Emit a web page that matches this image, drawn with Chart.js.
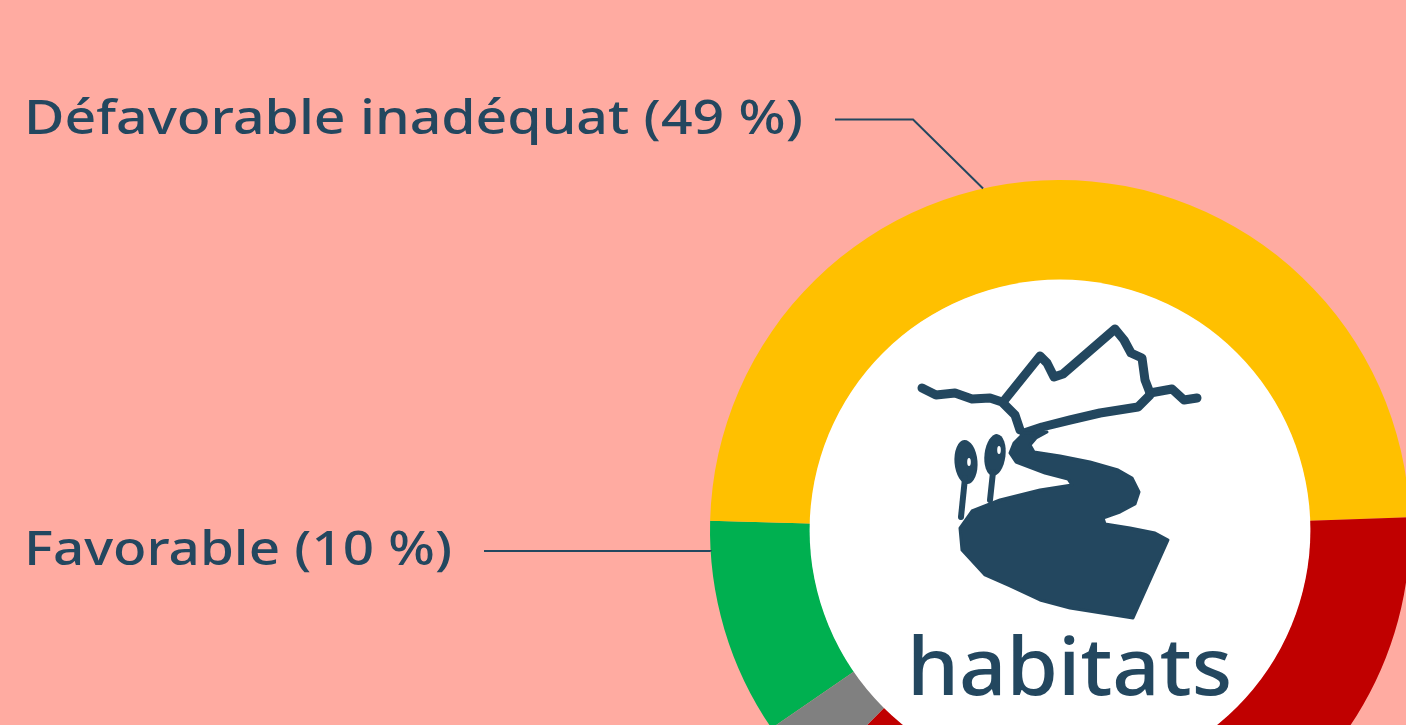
<!DOCTYPE html>
<html>
<head>
<meta charset="utf-8">
<script src="https://cdn.jsdelivr.net/npm/chart.js@4.4.1/dist/chart.umd.min.js"></script>
<style>
    html, body {
        margin: 0;
        padding: 0;
        width: 1406px;
        height: 725px;
        overflow: hidden;
        background: #ffaba1;
    }
    #wrap {
        position: absolute;
        left: 0;
        top: 0;
        width: 1500px;
        height: 1000px;
    }
</style>
</head>
<body>
<div id="wrap"><canvas id="chart"></canvas></div>
<script>
// Conservation status of habitats (share of assessments)
const categories = ['Favorable', 'Défavorable inadéquat', 'Défavorable mauvais', 'Inconnu'];
const shares = [10, 49, 38, 3];
const sliceColors = ['#00b050', '#ffc000', '#c00000', '#808080'];
// only the visible slices get a label; angle (deg, clockwise from top) where the leader touches the ring
const labelled = [
    { index: 0, angle: 266.5, elbow: 0, width: 428, y: 551 },
    { index: 1, angle: 347.3, elbow: 70, width: 779, y: 119.5 }
];

const ink = '#23475f';
const labelFont = '500 47px "Noto Sans"';

// draw text stretched horizontally to a given width (Montserrat-like proportions)
function stretchedText(ctx, text, x, baseline, width, font) {
    ctx.save();
    ctx.font = font;
    const w = ctx.measureText(text).width;
    ctx.translate(x, baseline);
    ctx.scale(width / w, 1);
    ctx.fillText(text, 0, 0);
    ctx.restore();
}

const labelPlugin = {
    id: 'labels',
    afterDatasetsDraw(chart) {
        const ctx = chart.ctx;
        const arc = chart.getDatasetMeta(0).data[0];
        const cx = arc.x, cy = arc.y, r = arc.outerRadius;
        ctx.save();
        ctx.fillStyle = ink;
        ctx.strokeStyle = ink;
        ctx.lineWidth = 2;
        ctx.textBaseline = 'alphabetic';
        labelled.forEach(l => {
            const a = (l.angle - 90) * Math.PI / 180;
            const ex = cx + r * Math.cos(a);
            const ey = cy + r * Math.sin(a);
            const bx = ex - l.elbow;
            const by = l.y;
            const text = categories[l.index] + ' (' + shares[l.index] + ' %)';
            stretchedText(ctx, text, 24, l.y + 14, l.width, labelFont);
            ctx.beginPath();
            ctx.moveTo(24 + l.width + 32, by);
            ctx.lineTo(bx, by);
            ctx.lineTo(ex, ey);
            ctx.stroke();
        });
        ctx.restore();
    }
};

// white centre disc with the "habitats" pictogram
const centrePlugin = {
    id: 'centre',
    afterDatasetsDraw(chart) {
        const ctx = chart.ctx;
        const arc = chart.getDatasetMeta(0).data[0];
        const cx = arc.x, cy = arc.y;
        ctx.save();
        ctx.fillStyle = '#ffffff';
        ctx.beginPath();
        ctx.arc(cx, cy, arc.innerRadius + 0.5, 0, Math.PI * 2);
        ctx.fill();

        ctx.translate(cx, cy);
        ctx.fillStyle = ink;
        ctx.strokeStyle = ink;
        ctx.lineJoin = 'round';
        ctx.lineCap = 'round';

        const poly = (pts) => {
            ctx.beginPath();
            ctx.moveTo(pts[0][0] - 1060, pts[0][1] - 530);
            for (let i = 1; i < pts.length; i++) ctx.lineTo(pts[i][0] - 1060, pts[i][1] - 530);
        };

        // branches / ridge
        ctx.lineWidth = 9;
        poly([[922, 388], [936, 395], [955, 393], [972, 399], [990, 398], [1002, 402], [1015, 415], [1020, 430]]);
        ctx.stroke();
        poly([[1003, 402], [1040, 356], [1047, 363], [1054, 377], [1063, 374], [1115, 329], [1124, 340], [1131, 353], [1142, 358], [1145, 380], [1150, 393]]);
        ctx.stroke();
        poly([[1150, 393], [1172, 389], [1184, 400], [1197, 398]]);
        ctx.stroke();
        poly([[1150, 395], [1138, 407], [1100, 413], [1070, 420], [1042, 427], [1024, 433]]);
        ctx.stroke();

        // river
        ctx.lineWidth = 3;
        poly([[1024, 433], [1014, 443], [1010, 453], [1016, 462], [1045, 473], [1068, 479], [1072, 485],
              [1040, 490], [1000, 500], [972, 511], [960, 528], [962, 550], [985, 575], [1010, 586],
              [1040, 600], [1070, 608], [1133, 618], [1168, 540], [1155, 533], [1130, 528], [1105, 524],
              [1103, 518], [1120, 512], [1135, 504], [1139, 492], [1132, 478], [1118, 470], [1090, 462],
              [1060, 456], [1034, 452], [1030, 445], [1036, 438], [1047, 432]]);
        ctx.closePath();
        ctx.fill();
        ctx.stroke();

        // two trees
        ctx.beginPath();
        ctx.ellipse(966 - 1060, 462 - 530, 11.5, 22, -0.08, 0, Math.PI * 2);
        ctx.fill();
        ctx.beginPath();
        ctx.ellipse(995 - 1060, 455 - 530, 10.5, 21, 0.12, 0, Math.PI * 2);
        ctx.fill();
        ctx.lineWidth = 6;
        poly([[965, 478], [961, 517]]);
        ctx.stroke();
        poly([[993, 472], [990, 500]]);
        ctx.stroke();
        ctx.fillStyle = '#ffffff';
        ctx.beginPath();
        ctx.ellipse(969 - 1060, 462 - 530, 1.8, 4, 0, 0, Math.PI * 2);
        ctx.fill();
        ctx.beginPath();
        ctx.ellipse(999 - 1060, 450 - 530, 1.8, 4, 0, 0, Math.PI * 2);
        ctx.fill();

        // title
        ctx.fillStyle = ink;
        stretchedText(ctx, 'habitats', 907 - 1060, 695 - 530, 325, '500 79px "Noto Sans"');
        ctx.restore();
    }
};

const chart = new Chart(document.getElementById('chart'), {
    type: 'doughnut',
    data: {
        labels: categories,
        datasets: [{
            data: shares,
            backgroundColor: sliceColors,
            borderWidth: 0,
            hoverOffset: 0
        }]
    },
    options: {
        responsive: true,
        maintainAspectRatio: false,
        animation: false,
        rotation: 235.5,
        cutout: '71.4%',
        layout: {
            padding: { left: 710, top: 180, right: 90, bottom: 120 }
        },
        plugins: {
            legend: { display: false },
            tooltip: { enabled: false }
        }
    },
    plugins: [centrePlugin, labelPlugin]
});
</script>
</body>
</html>
